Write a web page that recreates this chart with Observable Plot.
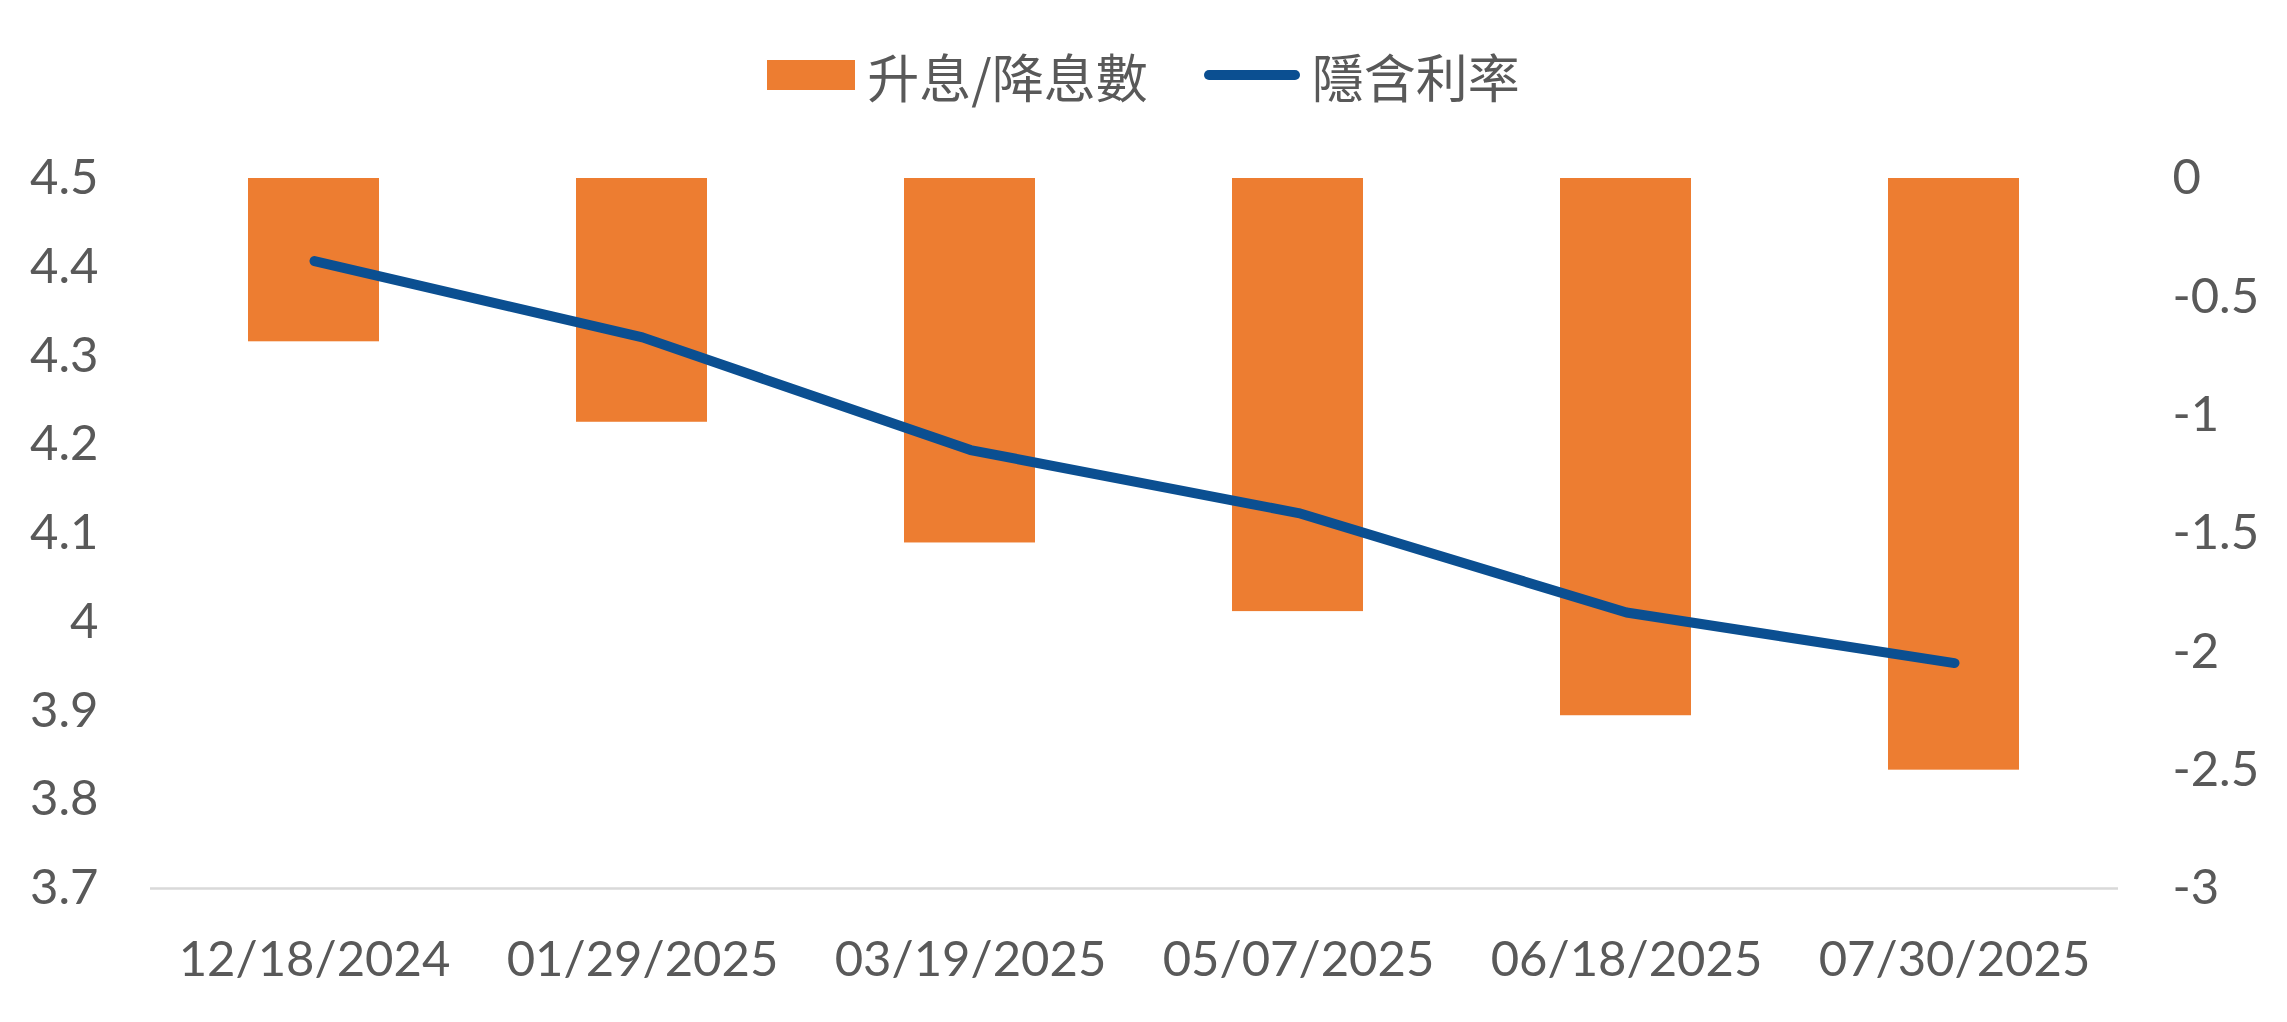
<!DOCTYPE html>
<html>
<head>
<meta charset="utf-8">
<script src="https://cdn.jsdelivr.net/npm/d3@7"></script>
<script src="https://cdn.jsdelivr.net/npm/@observablehq/plot@0.6"></script>
<style>
  html, body { margin: 0; padding: 0; background: #ffffff; }
  #legend { height: 150px; width: 2287px; display: flex; align-items: center; justify-content: center;
            font-family: "Noto Sans CJK TC", "Noto Sans CJK SC", sans-serif; font-size: 52px; color: #595959; }
  .item { display: flex; align-items: center; margin: 0 28px; }
  .sw { margin-right: 12px; }
  #chart { position: relative; width: 2287px; height: 872px; }
  #chart svg { position: absolute; left: 0; top: 0; }
</style>
</head>
<body>
<div id="legend"></div>
<div id="chart"></div>
<script>
const dates = ["12/18/2024", "01/29/2025", "03/19/2025", "05/07/2025", "06/18/2025", "07/30/2025"];
const cuts = [-0.69, -1.03, -1.54, -1.83, -2.27, -2.50];
const implied = [4.407, 4.321, 4.194, 4.123, 4.011, 3.954];
const leftTicks = [3.7, 3.8, 3.9, 4, 4.1, 4.2, 4.3, 4.4, 4.5];
const rightTicks = [-3, -2.5, -2, -1.5, -1, -0.5, 0];
const seriesNames = ["升息/降息數", "隱含利率"];
const seriesColors = ["#ED7D31", "#0B4F91"];

const data = dates.map((d, i) => ({date: d, cut: cuts[i], rate: implied[i]}));

// Legend
const legend = document.getElementById("legend");
seriesNames.forEach((name, i) => {
  const item = document.createElement("div");
  item.className = "item";
  const sw = document.createElement("span");
  sw.className = "sw";
  if (i === 0) {
    sw.style.cssText = `display:inline-block;width:88px;height:30px;background:${seriesColors[0]};`;
  } else {
    sw.style.cssText = `display:inline-block;width:96px;height:10px;border-radius:5px;background:${seriesColors[1]};`;
  }
  const t = document.createElement("span");
  t.textContent = name;
  item.appendChild(sw);
  item.appendChild(t);
  legend.appendChild(item);
});

const common = {
  width: 2287, height: 872,
  marginTop: 28, marginBottom: 134, marginLeft: 150, marginRight: 169,
  style: {fontFamily: "Lato, 'Open Sans', sans-serif", fontSize: "49px", color: "#595959", background: "transparent", overflow: "visible"}
};
const xOpts = {domain: dates, paddingInner: 0.6, paddingOuter: 0.3};

const bars = Plot.plot({
  ...common,
  x: {...xOpts, axis: null},
  y: {domain: [-3, 0], axis: null},
  marks: [
    Plot.barY(data, {x: "date", y: "cut", fill: seriesColors[0]}),
    Plot.axisY(rightTicks, {anchor: "right", tickSize: 0, tickPadding: 54, tickFormat: d => String(d), label: null, fill: "#595959"})
  ]
});

const lines = Plot.plot({
  ...common,
  x: {...xOpts},
  y: {domain: [3.7, 4.5]},
  marks: [
    Plot.ruleY([3.7], {stroke: "#D9D9D9", strokeWidth: 2.5}),
    Plot.line(data, {x: "date", y: "rate", stroke: seriesColors[1], strokeWidth: 10, strokeLinecap: "round", strokeLinejoin: "round", curve: "linear"}),
    Plot.axisX({tickSize: 0, tickPadding: 53, label: null, fill: "#595959"}),
    Plot.axisY(leftTicks, {anchor: "left", tickSize: 0, tickPadding: 52, tickFormat: d => String(d), label: null, fill: "#595959"})
  ]
});

const chart = document.getElementById("chart");
chart.appendChild(bars);
chart.appendChild(lines);
</script>
</body>
</html>
